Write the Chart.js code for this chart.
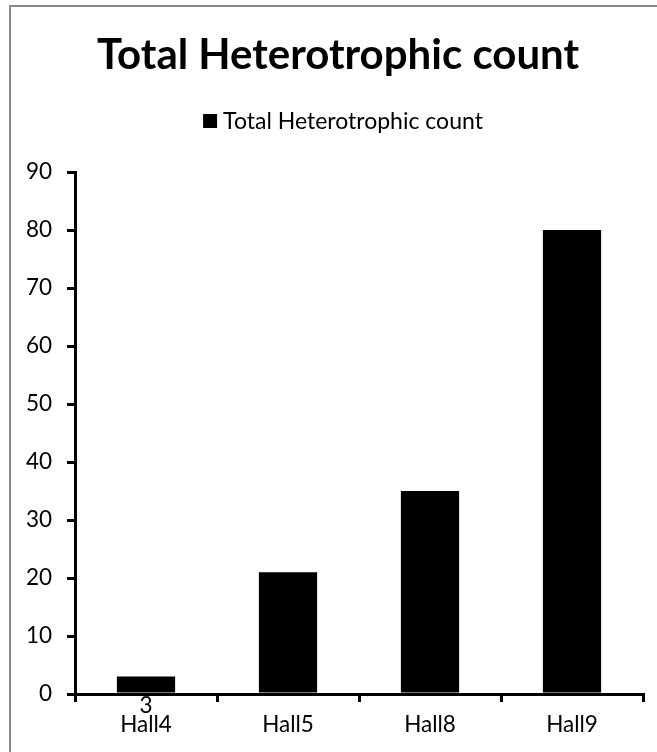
<!DOCTYPE html>
<html>
<head>
<meta charset="utf-8">
<script src="https://cdn.jsdelivr.net/npm/chart.js@4.4.1/dist/chart.umd.min.js"></script>
<style>
  html, body { margin: 0; padding: 0; background: #fff; overflow: hidden; }
  #wrap { position: relative; width: 680px; height: 752px; }
</style>
</head>
<body>
<div id="wrap"><canvas id="c" width="680" height="752"></canvas></div>
<script>
const categories = ['Hall4', 'Hall5', 'Hall8', 'Hall9'];
const seriesName = 'Total Heterotrophic count';
const counts = [3, 21, 35, 80];
const yTicks = [0, 10, 20, 30, 40, 50, 60, 70, 80, 90];

const FONT = 'Lato, "Open Sans", sans-serif';

// Grey outline of the chart object (its right and bottom edges lie off-page)
const frame = {
  id: 'frame',
  beforeDraw(chart) {
    const ctx = chart.ctx;
    ctx.save();
    ctx.fillStyle = '#8a8a8a';
    ctx.fillRect(9, 5, 2, chart.height);
    ctx.fillRect(9, 5, chart.width, 2);
    ctx.restore();
  }
};

// Centre the title over the whole chart object rather than the padded area
const titleSpan = {
  id: 'titleSpan',
  afterLayout(chart) {
    if (chart.titleBlock) chart.titleBlock.left = 33;
  }
};

// Single-row legend centred under the title
const legendRow = {
  id: 'legendRow',
  afterDraw(chart) {
    const ctx = chart.ctx;
    const ds = chart.data.datasets[0];
    ctx.save();
    ctx.font = '23px ' + FONT;
    const tw = ctx.measureText(ds.label).width;
    const box = 14, gap = 6;
    const x0 = chart.width / 2 + 3 - (box + gap + tw) / 2;
    const yc = 121;
    ctx.fillStyle = ds.backgroundColor;
    ctx.fillRect(x0, yc - box / 2, box, box);
    ctx.fillStyle = '#000';
    ctx.textBaseline = 'middle';
    ctx.fillText(ds.label, x0 + box + gap, yc + 1);
    ctx.restore();
  }
};

// Value labels at the bar base; short bars push the label below the axis
const valueLabels = {
  id: 'valueLabels',
  afterDatasetsDraw(chart) {
    const ctx = chart.ctx;
    const meta = chart.getDatasetMeta(0);
    ctx.save();
    ctx.font = '22.5px ' + FONT;
    ctx.fillStyle = '#000';
    ctx.textAlign = 'center';
    meta.data.forEach((bar, i) => {
      const v = chart.data.datasets[0].data[i];
      const h = bar.base - bar.y;
      if (h >= 26) {
        ctx.textBaseline = 'bottom';
        ctx.fillText(String(v), bar.x, bar.base - 2);
      } else {
        ctx.textBaseline = 'middle';
        ctx.fillText(String(v), bar.x, bar.base + 13);
      }
    });
    ctx.restore();
  }
};

new Chart(document.getElementById('c'), {
  type: 'bar',
  data: {
    labels: categories,
    datasets: [{
      label: seriesName,
      data: counts,
      backgroundColor: '#000000',
      borderWidth: 0,
      categoryPercentage: 1.0,
      barPercentage: 0.41
    }]
  },
  options: {
    responsive: false,
    animation: false,
    devicePixelRatio: 1,
    layout: { padding: { left: 0, right: 37, top: 0, bottom: 0 } },
    plugins: {
      legend: { display: false },
      tooltip: { enabled: false },
      title: {
        display: true,
        text: 'Total Heterotrophic count',
        color: '#000',
        font: { family: FONT, size: 42, weight: 'bold', lineHeight: 1 },
        padding: { top: 34, bottom: 96 }
      }
    },
    scales: {
      x: {
        afterFit(scale) { scale.height = 58; },
        border: { display: true, color: '#000', width: 3 },
        grid: { display: true, drawOnChartArea: false, drawTicks: true, tickLength: 8, color: '#000', lineWidth: 3, offset: true },
        ticks: { color: '#000', font: { family: FONT, size: 22.5 }, padding: 9, maxRotation: 0 }
      },
      y: {
        min: 0,
        max: 90,
        afterFit(scale) { scale.width = 75; },
        afterBuildTicks(scale) { scale.ticks = yTicks.map(v => ({ value: v })); },
        border: { display: true, color: '#000', width: 3 },
        grid: { display: true, drawOnChartArea: false, drawTicks: true, tickLength: 8, color: '#000', lineWidth: 3 },
        ticks: { color: '#000', font: { family: FONT, size: 22.5 }, padding: 15 }
      }
    }
  },
  plugins: [frame, titleSpan, valueLabels, legendRow]
});
</script>
</body>
</html>
